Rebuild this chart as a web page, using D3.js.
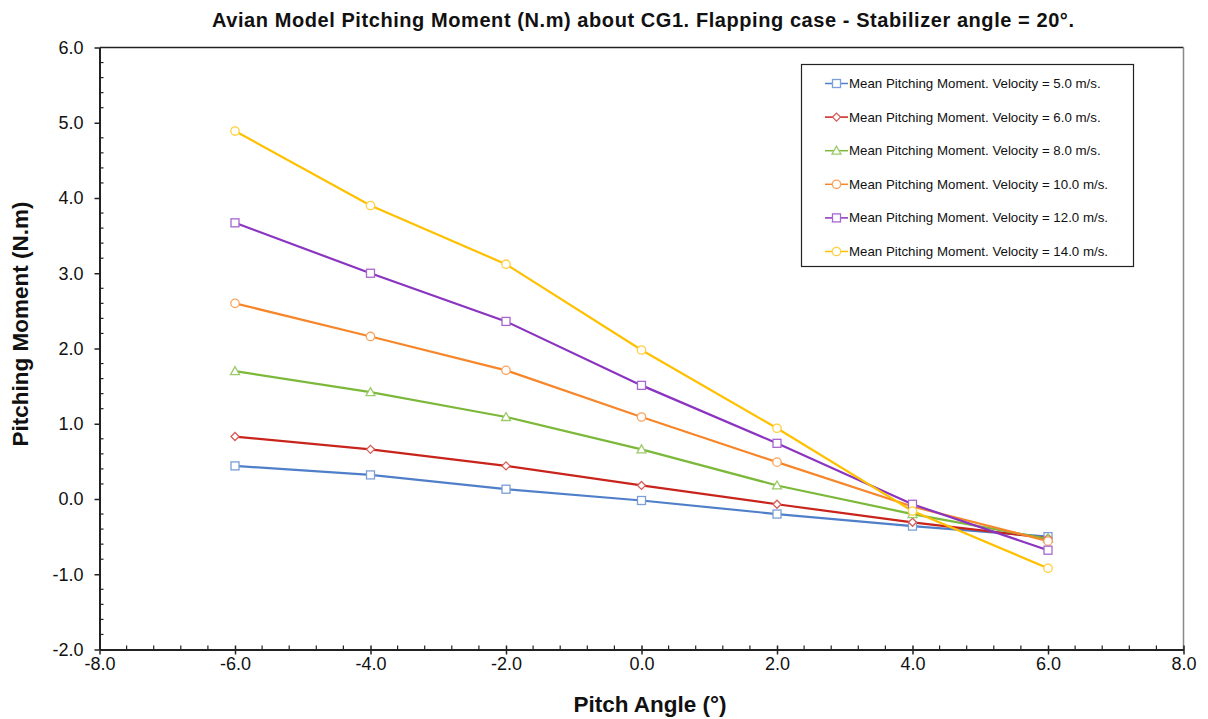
<!DOCTYPE html>
<html lang="en">
<head>
<meta charset="UTF-8">
<title>Avian Model Pitching Moment</title>
<script src="https://d3js.org/d3.v7.min.js"></script>
<style>
  body { margin: 0; background: #fff; }
  text { font-family: "Liberation Sans", Arial, sans-serif; }
</style>
</head>
<body>
<svg id="chart"></svg>
<script>
var width = 1208, height = 719;

// data
var pitchAngles = [-6, -4, -2, 0, 2, 4, 6];
var velocities = ["5.0", "6.0", "8.0", "10.0", "12.0", "14.0"];
var moment5 = [0.44, 0.32, 0.13, -0.02, -0.20, -0.36, -0.50];
var moment6 = [0.83, 0.66, 0.44, 0.18, -0.07, -0.31, -0.52];
var moment8 = [1.70, 1.42, 1.09, 0.66, 0.18, -0.20, -0.53];
var moment10 = [2.60, 2.16, 1.71, 1.09, 0.49, -0.10, -0.56];
var moment12 = [3.67, 3.00, 2.36, 1.51, 0.74, -0.07, -0.68];
var moment14 = [4.89, 3.90, 3.12, 1.98, 0.94, -0.16, -0.92];
var xTicks = [-8, -6, -4, -2, 0, 2, 4, 6, 8];
var yTicks = [-2, -1, 0, 1, 2, 3, 4, 5, 6];

var series = [
  { v: velocities[0], vals: moment5, color: "#4F7FC9", mark: "square" },
  { v: velocities[1], vals: moment6, color: "#C8241C", mark: "diamond" },
  { v: velocities[2], vals: moment8, color: "#7CB83A", mark: "triangle" },
  { v: velocities[3], vals: moment10, color: "#F7862A", mark: "circle" },
  { v: velocities[4], vals: moment12, color: "#8A34C0", mark: "square" },
  { v: velocities[5], vals: moment14, color: "#FFC000", mark: "circle" }
];

var svg = d3.select("#chart").attr("width", width).attr("height", height);

var plotLeft = 99.5, plotRight = 1183.5, plotTop = 47.5, plotBottom = 649.5;

var x = d3.scaleLinear().domain([-8, 8]).range([plotLeft, plotRight]);
var y = d3.scaleLinear().domain([-2, 6]).range([plotBottom, plotTop]);

// frame: top and right
svg.append("line").attr("x1", plotLeft).attr("x2", plotRight).attr("y1", plotTop).attr("y2", plotTop)
  .attr("stroke", "#222").attr("stroke-width", 1.5);
svg.append("line").attr("x1", plotRight).attr("x2", plotRight).attr("y1", plotTop).attr("y2", plotBottom)
  .attr("stroke", "#888").attr("stroke-width", 1.5);

// minor ticks
var xMinor = d3.range(-8, 8.001, 0.4).filter(function (d) { return Math.abs(d / 2 - Math.round(d / 2)) > 1e-6; });
var yMinor = d3.range(-2, 6.001, 0.2).filter(function (d) { return Math.abs(d - Math.round(d)) > 1e-6; });

svg.append("g").selectAll("line").data(xMinor).enter().append("line")
  .attr("x1", function (d) { return x(d); }).attr("x2", function (d) { return x(d); })
  .attr("y1", plotBottom).attr("y2", plotBottom - 4)
  .attr("stroke", "#222").attr("stroke-width", 1.2);
svg.append("g").selectAll("line").data(yMinor).enter().append("line")
  .attr("x1", plotLeft).attr("x2", plotLeft + 4)
  .attr("y1", function (d) { return y(d); }).attr("y2", function (d) { return y(d); })
  .attr("stroke", "#222").attr("stroke-width", 1.2);

var fmt = function (d) { return d3.format(".1f")(d).replace("−", "-"); };

// axes
var xAxis = d3.axisBottom(x).tickValues(xTicks).tickSizeInner(5).tickSizeOuter(0)
  .tickFormat(fmt).tickPadding(3);
var gx = svg.append("g").attr("transform", "translate(0," + plotBottom + ")").call(xAxis);
gx.selectAll(".tick line").attr("y1", -4).attr("stroke", "#222").attr("stroke-width", 1.5);
gx.select(".domain").attr("stroke", "#222").attr("stroke-width", 2);
gx.selectAll("text").attr("font-size", 18).attr("fill", "#111");

var yAxis = d3.axisLeft(y).tickValues(yTicks).tickSizeInner(5).tickSizeOuter(0)
  .tickFormat(fmt).tickPadding(11);
var gy = svg.append("g").attr("transform", "translate(" + plotLeft + ",0)").call(yAxis);
gy.selectAll(".tick line").attr("stroke", "#222").attr("stroke-width", 1.5);
gy.select(".domain").attr("stroke", "#222").attr("stroke-width", 2);
gy.selectAll("text").attr("font-size", 18).attr("fill", "#111");

// series lines
var line = d3.line()
  .x(function (d, i) { return x(pitchAngles[i]); })
  .y(function (d) { return y(d); });

series.forEach(function (s) {
  svg.append("path").datum(s.vals).attr("d", line)
    .attr("fill", "none").attr("stroke", s.color).attr("stroke-width", 2.2);
});

function lighten(c) {
  return d3.interpolateRgb(c, "#ffffff")(0.25);
}

function drawMarker(g, type, cx, cy, color) {
  var stroke = lighten(color);
  if (type === "square") {
    g.append("rect").attr("x", cx - 4).attr("y", cy - 4).attr("width", 8).attr("height", 8)
      .attr("fill", "#fff").attr("stroke", stroke).attr("stroke-width", 1.3);
  } else if (type === "circle") {
    g.append("circle").attr("cx", cx).attr("cy", cy).attr("r", 4.2)
      .attr("fill", "#fff").attr("stroke", stroke).attr("stroke-width", 1.3);
  } else if (type === "diamond") {
    g.append("path").attr("d", "M" + cx + "," + (cy - 4) + "L" + (cx + 4) + "," + cy + "L" + cx + "," + (cy + 4) + "L" + (cx - 4) + "," + cy + "Z")
      .attr("fill", "#fff").attr("stroke", stroke).attr("stroke-width", 1.3);
  } else if (type === "triangle") {
    g.append("path").attr("d", "M" + cx + "," + (cy - 4.5) + "L" + (cx + 4.5) + "," + (cy + 3.5) + "L" + (cx - 4.5) + "," + (cy + 3.5) + "Z")
      .attr("fill", "#fff").attr("stroke", stroke).attr("stroke-width", 1.3);
  }
}

series.forEach(function (s) {
  var g = svg.append("g");
  s.vals.forEach(function (v, i) {
    drawMarker(g, s.mark, x(pitchAngles[i]), y(v), s.color);
  });
});

// legend
var lg = svg.append("g");
lg.append("rect").attr("x", 801.5).attr("y", 64.5).attr("width", 332).attr("height", 202)
  .attr("fill", "#fff").attr("stroke", "#222").attr("stroke-width", 1.2);
series.forEach(function (s, i) {
  var ly = 83.5 + i * 33.6;
  lg.append("line").attr("x1", 825).attr("x2", 848).attr("y1", ly).attr("y2", ly)
    .attr("stroke", s.color).attr("stroke-width", 1.5);
  drawMarker(lg, s.mark, 836.5, ly, s.color);
  lg.append("text").attr("x", 849).attr("y", ly + 4.5).attr("font-size", 13.3).attr("fill", "#111")
    .text("Mean Pitching Moment. Velocity = " + s.v + " m/s.");
});

// titles
svg.append("text").attr("x", 643).attr("y", 27).attr("text-anchor", "middle")
  .attr("font-size", 20).attr("font-weight", "bold").attr("fill", "#111")
  .attr("textLength", 862).attr("lengthAdjust", "spacing")
  .text("Avian Model Pitching Moment (N.m) about CG1. Flapping case - Stabilizer angle = 20°.");
svg.append("text").attr("x", 650).attr("y", 712).attr("text-anchor", "middle")
  .attr("font-size", 22.5).attr("font-weight", "bold").attr("fill", "#111")
  .text("Pitch Angle (°)");
svg.append("text").attr("transform", "translate(28,324) rotate(-90)").attr("text-anchor", "middle")
  .attr("font-size", 22.5).attr("font-weight", "bold").attr("fill", "#111")
  .text("Pitching Moment (N.m)");
</script>
</body>
</html>
